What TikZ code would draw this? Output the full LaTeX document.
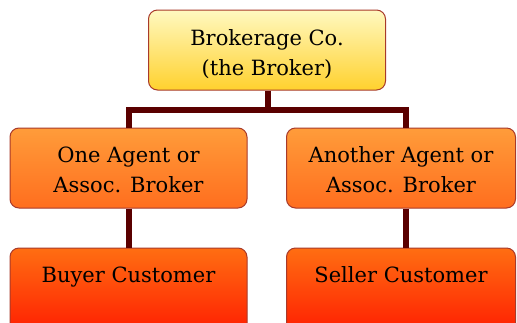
\documentclass[tikz,border=0pt]{standalone}
\usepackage{fontspec}
\setmainfont{DejaVu Serif}
\definecolor{edgec}{HTML}{A83A2A}
\definecolor{linkc}{HTML}{5A0000}
\definecolor{ytop}{HTML}{FFF9C0}
\definecolor{ybot}{HTML}{FFD12E}
\definecolor{otop}{HTML}{FF9C3A}
\definecolor{obot}{HTML}{FF6E1E}
\definecolor{rtop}{HTML}{FF6E12}
\definecolor{rbot}{HTML}{FF1A00}
\renewcommand{\arraystretch}{1}
\tikzset{
  box/.style={draw=edgec, line width=1pt, rounded corners=9pt,
    font=\fontsize{21}{30}\selectfont, text=black, inner xsep=0pt, inner ysep=0pt, anchor=base},
  topbox/.style={box, top color=ytop, bottom color=ybot, text height=50pt, text depth=30pt},
  midbox/.style={box, top color=otop, bottom color=obot, text height=49pt, text depth=31pt},
  lowbox/.style={box, top color=rtop, bottom color=rbot, text height=34pt, text depth=55pt},
  link/.style={draw=linkc, line width=6pt}
}
\begin{document}
\begin{tikzpicture}[x=1pt,y=-1pt]
\useasboundingbox (0,0) rectangle (517,322);
\clip (0,0) rectangle (517,322);
\fill[white] (0,0) rectangle (517,322);
\coordinate (bar) at (268,109.5);
\node[topbox, minimum width=237pt] (brk) at (267,60) {\begin{tabular}{@{}c@{}}Brokerage Co.\\(the Broker)\end{tabular}};
\node[midbox, minimum width=237pt] (ag1) at (128.5,177) {\begin{tabular}{@{}c@{}}One Agent or\\Assoc. Broker\end{tabular}};
\node[midbox, minimum width=229pt] (ag2) at (401,177) {\begin{tabular}{@{}c@{}}Another Agent or\\Assoc. Broker\end{tabular}};
\node[lowbox, minimum width=237pt] (buy) at (128.5,282) {Buyer Customer};
\node[lowbox, minimum width=229pt] (sel) at (401,282) {Seller Customer};
\draw[link] ([xshift=1pt]brk.south) -- (bar) -| (ag1.north);
\draw[link] (bar) -| ([xshift=5pt]ag2.north);
\draw[link] (ag1.south) -- (buy.north);
\draw[link] ([xshift=5pt]ag2.south) -- ([xshift=5pt]sel.north);
\end{tikzpicture}
\end{document}
